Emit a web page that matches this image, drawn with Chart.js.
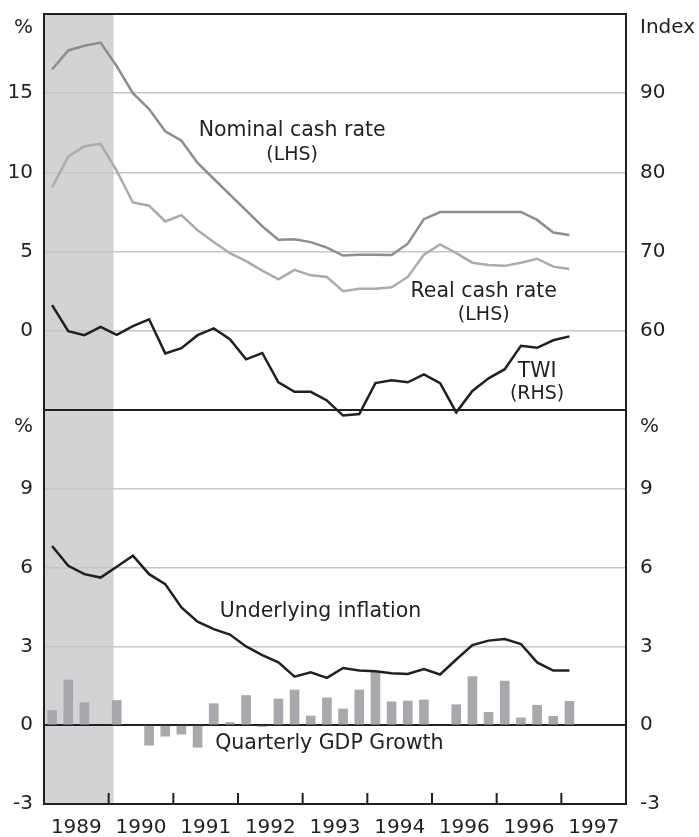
<!DOCTYPE html>
<html>
<head>
<meta charset="utf-8">
<script src="https://cdn.jsdelivr.net/npm/chart.js@4.4.0/dist/chart.umd.min.js"></script>
<style>
  html, body { margin: 0; padding: 0; background: #ffffff; }
  #wrap { position: relative; width: 699px; height: 837px; }
  canvas { position: absolute; left: 0; }
  #topChart { top: 0; z-index: 2; }
  #bottomChart { top: 400px; z-index: 1; }
</style>
</head>
<body>
<div id="wrap">
  <canvas id="topChart" width="699" height="420"></canvas>
  <canvas id="bottomChart" width="699" height="437"></canvas>
</div>
<script>
// one label per year, 4 quarters each
const yearLabels = ['1989', '1990', '1991', '1992', '1993', '1994', '1996', '1996', '1997'];

// quarterly series
const nominalCash = [16.5, 17.7, 18.0, 18.2, 16.7, 15.0, 14.0, 12.6, 12.0, 10.6, 9.6, 8.6, 7.6, 6.6, 5.75, 5.78, 5.6, 5.25,
                     4.75, 4.8, 4.8, 4.78, 5.5, 7.05, 7.5, 7.5, 7.5, 7.5, 7.5, 7.5, 7.0, 6.2, 6.05];
const realCash = [9.05, 11.0, 11.65, 11.8, 10.1, 8.1, 7.9, 6.9, 7.3, 6.35, 5.6, 4.9, 4.4, 3.8, 3.25, 3.85, 3.5, 3.4,
                  2.5, 2.65, 2.65, 2.75, 3.4, 4.8, 5.45, 4.9, 4.3, 4.15, 4.1, 4.3, 4.55, 4.05, 3.9];
const twi = [63.25, 59.95, 59.45, 60.5, 59.5, 60.6, 61.45, 57.15, 57.8, 59.45, 60.3, 58.95, 56.4, 57.2, 53.5, 52.3, 52.3, 51.2,
             49.3, 49.5, 53.4, 53.75, 53.5, 54.5, 53.4, 49.7, 52.4, 54.0, 55.15, 58.1, 57.85, 58.8, 59.3];
const inflation = [6.82, 6.07, 5.75, 5.62, 6.03, 6.45, 5.75, 5.37, 4.48, 3.94, 3.66, 3.45, 3.0, 2.67, 2.39, 1.85, 2.01, 1.8,
                   2.18, 2.08, 2.05, 1.98, 1.95, 2.14, 1.93, 2.5, 3.05, 3.22, 3.28, 3.09, 2.39, 2.08, 2.08];
const gdpGrowth = [0.56, 1.72, 0.86, null, 0.94, null, -0.76, -0.42, -0.34, -0.84, 0.82, 0.1, 1.13, -0.05, 1.0, 1.34, 0.35, 1.04,
                   0.62, 1.34, 2.03, 0.89, 0.92, 0.96, null, 0.78, 1.85, 0.49, 1.68, 0.28, 0.76, 0.34, 0.91];

const shadedQuarters = 4.3;

const INK = '#231f20';
const GRID = '#c6c6c6';
const FONT = '"DejaVu Sans", "Liberation Sans", sans-serif';

const toPoints = arr => arr.map((v, i) => ({ x: i + 0.5, y: v }));

// fixed axis sizes so both panels line up
const fixWidth = w => s => { s.width = w; s.paddingTop = 0; s.paddingBottom = 0; };

const shading = {
    id: 'shading',
    beforeDraw(chart)
    {
        const { ctx, chartArea: { top, bottom }, scales: { x } } = chart;
        const x0 = x.getPixelForValue(0);
        const x1 = x.getPixelForValue(shadedQuarters);
        ctx.save();
        ctx.fillStyle = '#d1d3d4';
        ctx.fillRect(x0, top, x1 - x0, bottom - top);
        ctx.restore();
    }
};

const frame = {
    id: 'frame',
    afterDraw(chart, args, opts)
    {
        const { ctx, chartArea: { left, top, right, bottom }, scales } = chart;
        ctx.save();
        ctx.strokeStyle = INK;
        ctx.lineWidth = 2;
        ctx.strokeRect(left, top, right - left, bottom - top);

        // year boundary ticks, pointing into the plot
        if (opts.yearTicks)
        {
            for (let q = 4; q < yearLabels.length * 4; q += 4)
            {
                const px = scales.x.getPixelForValue(q);
                ctx.beginPath();
                ctx.moveTo(px, bottom);
                ctx.lineTo(px, bottom - 11);
                ctx.stroke();
            }
        }

        ctx.fillStyle = INK;
        ctx.textBaseline = 'middle';
        ctx.font = '20px ' + FONT;
        ctx.textAlign = 'right';
        ctx.fillText(opts.leftUnit, left - 11, top + opts.unitDrop);
        ctx.textAlign = 'left';
        ctx.fillText(opts.rightUnit, right + 14, top + opts.unitDrop);

        ctx.textAlign = 'center';
        for (const n of opts.notes)
        {
            ctx.font = n.size + 'px ' + FONT;
            ctx.fillText(n.text, scales.x.getPixelForValue(n.x), scales.y.getPixelForValue(n.y));
        }
        ctx.restore();
    }
};

const tickFont = { family: FONT, size: 20 };

// top panel: cash rates (LHS) and TWI (RHS)
new Chart(document.getElementById('topChart'), {
    type: 'line',
    data: {
        datasets: [
            { label: 'Nominal cash rate', data: toPoints(nominalCash), borderColor: '#8d8d8d', borderWidth: 2.5, yAxisID: 'y' },
            { label: 'Real cash rate', data: toPoints(realCash), borderColor: '#ababab', borderWidth: 2.5, yAxisID: 'y' },
            { label: 'TWI', data: toPoints(twi), borderColor: INK, borderWidth: 2.5, yAxisID: 'y2', clip: false }
        ]
    },
    options: {
        responsive: false,
        animation: false,
        devicePixelRatio: 1,
        layout: { padding: { top: 14, bottom: 10, left: 0, right: 0 } },
        elements: { point: { radius: 0 }, line: { tension: 0 } },
        plugins: {
            legend: { display: false },
            tooltip: { enabled: false },
            frame: {
                leftUnit: '%', rightUnit: 'Index', unitDrop: 14,
                notes: [
                    { text: 'Nominal cash rate', x: 15.35, y: 12.65, size: 20.5 },
                    { text: '(LHS)', x: 15.35, y: 11.1, size: 19 },
                    { text: 'Real cash rate', x: 27.2, y: 2.45, size: 20.5 },
                    { text: '(LHS)', x: 27.2, y: 1.0, size: 19 },
                    { text: 'TWI', x: 30.5, y: -2.55, size: 20.5 },
                    { text: '(RHS)', x: 30.5, y: -4.0, size: 19 }
                ]
            }
        },
        scales: {
            x: { type: 'linear', min: 0, max: yearLabels.length * 4, display: false },
            y: {
                position: 'left', min: -5, max: 20,
                afterFit: fixWidth(44),
                border: { display: false },
                grid: { drawTicks: false, lineWidth: 1.5, color: GRID },
                ticks: {
                    stepSize: 5, padding: 11, color: INK, font: tickFont,
                    callback: v => (v === -5 || v === 20) ? null : v
                }
            },
            y2: {
                position: 'right', min: 50, max: 100,
                afterFit: fixWidth(73),
                border: { display: false },
                grid: { drawOnChartArea: false, drawTicks: false },
                ticks: {
                    stepSize: 10, padding: 14, color: INK, font: tickFont,
                    callback: v => (v === 50 || v === 100) ? null : v
                }
            }
        }
    },
    plugins: [shading, frame]
});

// bottom panel: underlying inflation and quarterly GDP growth
new Chart(document.getElementById('bottomChart'), {
    type: 'bar',
    data: {
        datasets: [
            { type: 'line', label: 'Underlying inflation', data: toPoints(inflation), borderColor: INK, borderWidth: 2.5, order: 1, yAxisID: 'y' },
            { type: 'bar', label: 'Quarterly GDP Growth', data: toPoints(gdpGrowth), backgroundColor: '#a7a9ac', barThickness: 9, order: 2, yAxisID: 'y' }
        ]
    },
    options: {
        responsive: false,
        animation: false,
        devicePixelRatio: 1,
        layout: { padding: { top: 10, bottom: 0, left: 0, right: 0 } },
        elements: { point: { radius: 0 }, line: { tension: 0 } },
        plugins: {
            legend: { display: false },
            tooltip: { enabled: false },
            frame: {
                leftUnit: '%', rightUnit: '%', unitDrop: 17, yearTicks: true,
                notes: [
                    { text: 'Underlying inflation', x: 17.1, y: 4.32, size: 20.5 },
                    { text: 'Quarterly GDP Growth', x: 17.65, y: -0.7, size: 20.5 }
                ]
            }
        },
        scales: {
            x: {
                type: 'linear', min: 0, max: yearLabels.length * 4, offset: false,
                afterBuildTicks: s => { s.ticks = yearLabels.map((_, i) => ({ value: i * 4 + 2 })); },
                afterFit: s => { s.height = 33; s.paddingLeft = 0; s.paddingRight = 0; },
                grid: { display: false, drawTicks: false },
                border: { display: false },
                ticks: {
                    autoSkip: false, maxRotation: 0, padding: 12, color: INK, font: tickFont,
                    callback: (v, i) => yearLabels[i]
                }
            },
            y: {
                position: 'left', min: -3, max: 12, beginAtZero: false,
                afterFit: fixWidth(44),
                border: { display: false },
                grid: {
                    drawTicks: false,
                    lineWidth: c => c.tick.value === 0 ? 2 : 1.5,
                    color: c => c.tick.value === 0 ? INK : (c.tick.value === -3 ? 'rgba(0,0,0,0)' : GRID)
                },
                ticks: {
                    stepSize: 3, padding: 11, color: INK, font: tickFont,
                    callback: v => v === 12 ? null : v
                }
            },
            y2: {
                position: 'right', min: -3, max: 12,
                afterFit: fixWidth(73),
                border: { display: false },
                grid: { drawOnChartArea: false, drawTicks: false },
                ticks: {
                    stepSize: 3, padding: 14, color: INK, font: tickFont,
                    callback: v => v === 12 ? null : v
                }
            }
        }
    },
    plugins: [shading, frame]
});
</script>
</body>
</html>
